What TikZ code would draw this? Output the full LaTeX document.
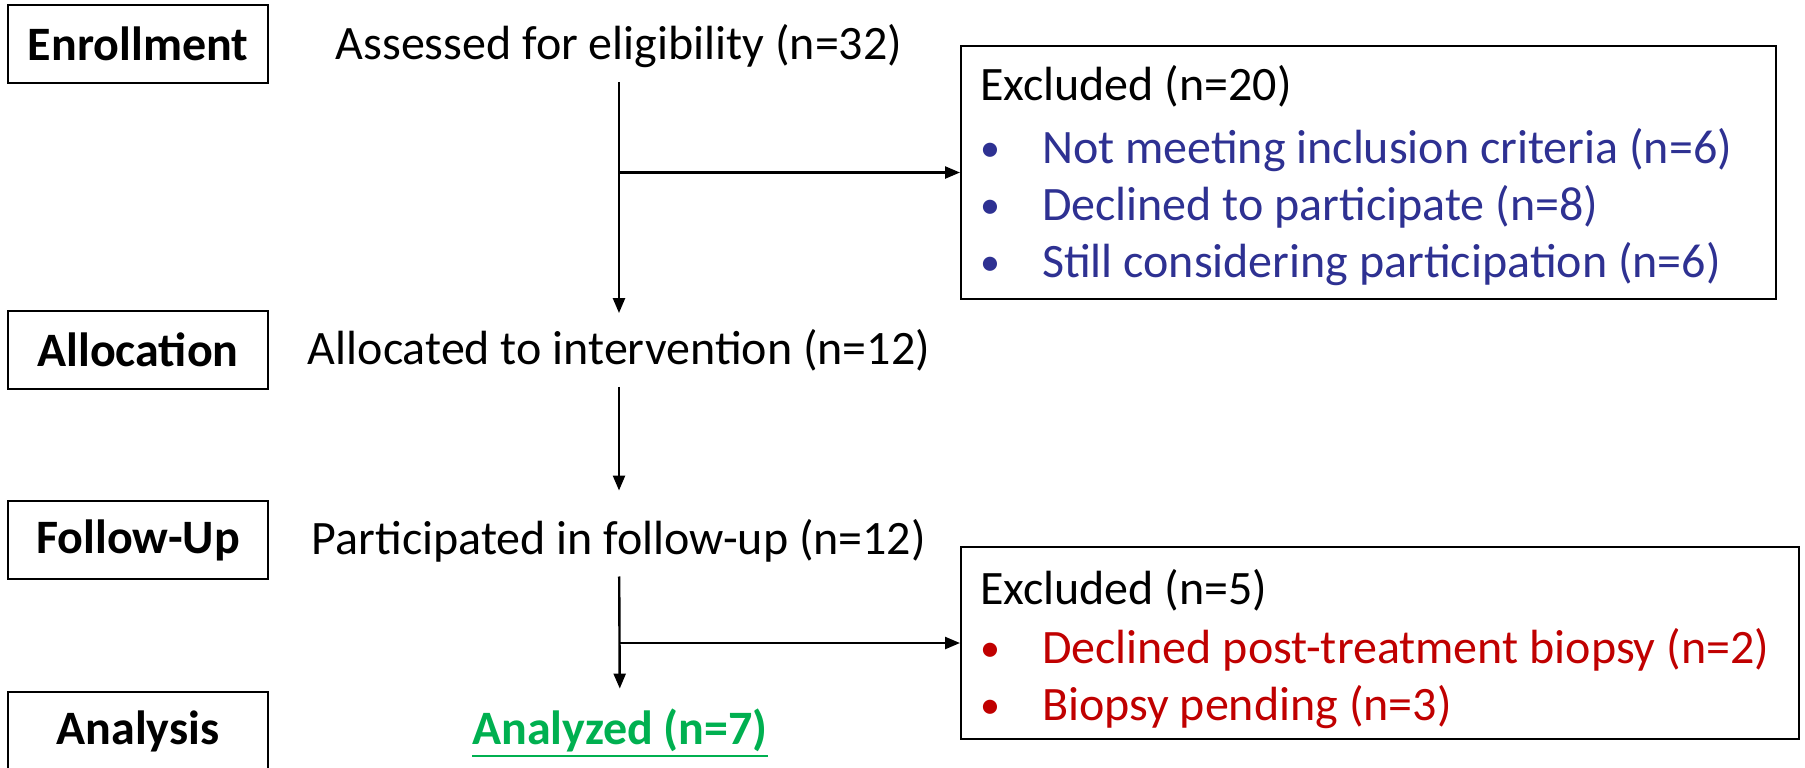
\documentclass[tikz,border=0pt]{standalone}
\usepackage{fontspec}
\setmainfont{Carlito}
\usepackage{tikz}
\usetikzlibrary{arrows.meta}
\definecolor{exblue}{RGB}{46,49,146}
\definecolor{exred}{RGB}{192,0,0}
\definecolor{okgreen}{RGB}{0,176,80}
\newcommand{\exitem}[2]{\mbox{\makebox[31pt][l]{\color{#1}\raisebox{1pt}{\fontsize{20}{20}\selectfont\textbullet}}\textcolor{#1}{#2}}}
\newcommand{\undl}[1]{\vtop{\hbox{#1}\kern1.5pt\hrule height 1.3pt}}

\begin{document}
\begin{tikzpicture}[x=0.5pt,y=-0.5pt,
  every node/.style={font=\fontsize{24}{28.5}\selectfont},
  stagebox/.style={draw,line width=1pt,minimum width=130pt,minimum height=39pt,font=\fontsize{24}{28.5}\selectfont\bfseries},
  exclbox/.style={draw,line width=1pt,align=flush left,inner xsep=9.5pt,inner ysep=0pt},
  arr/.style={line width=1.2pt,-{Triangle[length=7.5pt,width=6pt]}}]
  \useasboundingbox (0,0) rectangle (1805,767);
  \foreach \nm/\y/\txt in {enrol/44/Enrollment,alloc/350/Allocation,follow/540/Follow-Up,analy/731/Analysis}
    \node[stagebox] (\nm) at (138,\y) {\txt};
  \node (assess) at (619,46) {Assessed for eligibility (n=32)};
  \node (allocd) at (619,350) {Allocated to intervention (n=12)};
  \node (partic) at (619,541) {Participated in follow-up (n=12)};
  \node[font=\fontsize{24}{28.5}\selectfont\bfseries,text=okgreen] (analyzed) at (620,733) {\undl{Analyzed (n=7)}};
  \node[exclbox,text width=388.5pt,minimum height=126.5pt] (excl1) at (1368.5,172.5)
    {\rule{0pt}{21pt}Excluded (n=20)\\[3pt]
     \exitem{exblue}{Not meeting inclusion criteria (n=6)}\\
     \exitem{exblue}{Declined to participate (n=8)}\\
     \exitem{exblue}{Still considering participation (n=6)}};
  \node[exclbox,text width=400pt,minimum height=96pt] (excl2) at (1380,643)
    {\rule{0pt}{24pt}Excluded (n=5)\\[1pt]
     \exitem{exred}{Declined post-treatment biopsy (n=2)}\\
     \exitem{exred}{Biopsy pending (n=3)}};
  \draw[arr,shorten <=3.5pt,shorten >=4.5pt] (assess) -- (allocd);
  \draw[arr] (excl1.west -| assess.south) -- (excl1.west);
  \draw[arr,shorten <=4.5pt,shorten >=11pt] (allocd) -- (partic);
  \draw[arr,shorten <=3.5pt,shorten >=6.5pt] (partic) -- (analyzed);
  \draw[arr] (excl2.west -| partic.south) -- (excl2.west);
\end{tikzpicture}
\end{document}
